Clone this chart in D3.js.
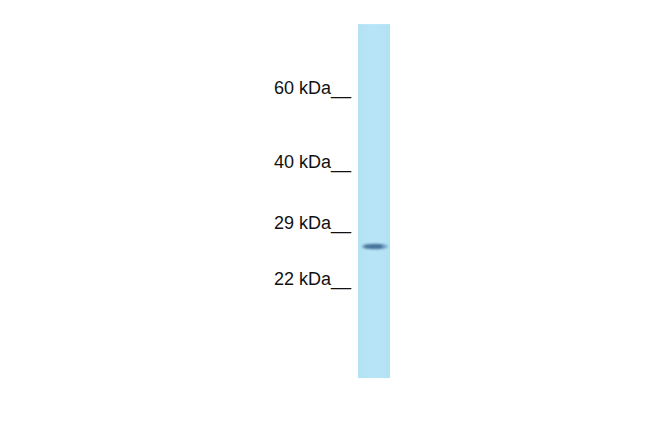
<!DOCTYPE html>
<html>
<head>
<meta charset="utf-8">
<script src="https://cdn.jsdelivr.net/npm/d3@7"></script>
<style>
  body { margin: 0; background: #fff; }
  svg { display: block; }
</style>
</head>
<body>
<script>
// marker ladder (kDa) and the single detected band
var markers = [60, 40, 29, 22];
var markerLabels = ["60 kDa__", "40 kDa__", "29 kDa__", "22 kDa__"];
var lanes = ["lane1"];
var laneRange = [88, 13.9]; // kDa at top / bottom of the gel strip
var bands = [{ lane: "lane1", kDa: 26.6, intensity: 0.9 }];

var width = 650, height = 433;

var svg = d3.select("body").append("svg")
    .attr("width", width)
    .attr("height", height);

// molecular weight -> pixel, piecewise log to follow the gel
var y = d3.scaleLog()
    .domain([60, 40, 29, 22])
    .range([94, 168, 229, 285]);

var x = d3.scaleBand()
    .domain(lanes)
    .range([358, 390])
    .padding(0);

var defs = svg.append("defs");

var laneGrad = defs.append("linearGradient")
    .attr("id", "laneGrad")
    .attr("x1", 0).attr("x2", 1).attr("y1", 0).attr("y2", 0);
laneGrad.append("stop").attr("offset", "0%").attr("stop-color", "#b3e2f5");
laneGrad.append("stop").attr("offset", "50%").attr("stop-color", "#b9e5f7");
laneGrad.append("stop").attr("offset", "100%").attr("stop-color", "#b2e1f4");

var bandGrad = defs.append("linearGradient")
    .attr("id", "bandGrad")
    .attr("x1", 0).attr("x2", 1).attr("y1", 0).attr("y2", 0);
bandGrad.append("stop").attr("offset", "0%").attr("stop-color", "#6f9cc0").attr("stop-opacity", 0.3);
bandGrad.append("stop").attr("offset", "15%").attr("stop-color", "#3f6a92");
bandGrad.append("stop").attr("offset", "70%").attr("stop-color", "#3a6690");
bandGrad.append("stop").attr("offset", "100%").attr("stop-color", "#6a9cc4").attr("stop-opacity", 0.4);

defs.append("filter").attr("id", "blur")
    .attr("x", "-20%").attr("y", "-100%").attr("width", "140%").attr("height", "300%")
    .append("feGaussianBlur").attr("stdDeviation", "1.2 1.1");

// lane
svg.selectAll(".lane")
    .data(lanes)
    .enter().append("rect")
    .attr("class", "lane")
    .attr("x", function (d) { return x(d); })
    .attr("y", y(laneRange[0]))
    .attr("width", x.bandwidth())
    .attr("height", y(laneRange[1]) - y(laneRange[0]))
    .attr("fill", "url(#laneGrad)");

// bands
svg.selectAll(".band")
    .data(bands)
    .enter().append("ellipse")
    .attr("class", "band")
    .attr("cx", function (d) { return x(d.lane) + x.bandwidth() / 2 + 1; })
    .attr("cy", function (d) { return y(d.kDa); })
    .attr("rx", x.bandwidth() / 2 - 2)
    .attr("ry", 2.8)
    .attr("fill", "url(#bandGrad)")
    .attr("opacity", function (d) { return d.intensity; })
    .attr("filter", "url(#blur)");

// marker labels
svg.selectAll(".marker")
    .data(markers)
    .enter().append("text")
    .attr("class", "marker")
    .attr("x", 351)
    .attr("y", function (d) { return y(d); })
    .attr("text-anchor", "end")
    .attr("font-family", "Liberation Sans, Arial, sans-serif")
    .attr("font-size", "18px")
    .attr("fill", "#111")
    .text(function (d, i) { return markerLabels[i]; });
</script>
</body>
</html>
